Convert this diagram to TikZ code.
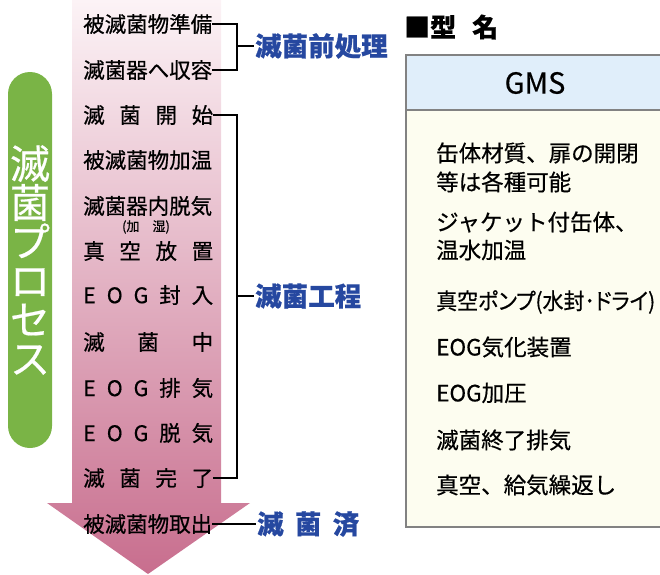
\documentclass[tikz,border=0pt]{standalone}
\usepackage{fontspec}
\usepackage{graphicx}
\setmainfont[FakeBold=0.5]{Noto Sans CJK JP}
\newfontfamily\paltfont[FakeBold=0.5,RawFeature=+palt]{Noto Sans CJK JP}
\usetikzlibrary{positioning}
\definecolor{arrowtop}{RGB}{252,243,246}
\definecolor{arrowbot}{RGB}{200,110,142}
\definecolor{procgreen}{RGB}{122,180,70}
\definecolor{labelblue}{RGB}{38,72,160}
\definecolor{headblue}{RGB}{224,238,250}
\definecolor{bodycream}{RGB}{253,253,240}
\definecolor{tabgray}{RGB}{130,130,130}

\begin{document}
\begin{tikzpicture}[
x=1pt,y=-1pt,
stepnode/.style={anchor=west,inner sep=0pt,font=\fontsize{21.5}{22}\selectfont},
grouplabel/.style={anchor=west,inner sep=1pt,text=labelblue,font=\fontsize{26.5}{27}\selectfont\bfseries},
bracket/.style={line width=1.8pt},
specnode/.style={anchor=west,inner sep=0pt,font=\fontsize{22.5}{23}\selectfont}
]
    \useasboundingbox (0,0) rectangle (660,574);

    % process arrow and green bar
    \shade[top color=arrowtop,bottom color=arrowbot]
        (72,0) -- (221,0) -- (221,503) -- (250,503) -- (148,574)
        -- (47,503) -- (72,503) -- cycle;
    \fill[procgreen,rounded corners=22pt] (8,72) rectangle (52,448);
    \node[text=white,font=\fontsize{40}{39}\selectfont,align=center] (proc) at (30,260)
        {滅\\菌\\プ\\ロ\\セ\\ス};

    % steps
    \node[stepnode] (s1) at (83,24) {被滅菌物準備};
    \node[stepnode] (s2) at (83,70) {滅菌器へ収容};
    \node[stepnode] (s3) at (83,115) {\makebox[130pt]{滅\hfill 菌\hfill 開\hfill 始}};
    \node[stepnode] (s4) at (83,160) {被滅菌物加温};
    \node[stepnode] (s5) at (83,206) {滅菌器内脱気};
    \node[inner sep=0pt,font=\fontsize{13}{13}\selectfont] (humid) at (146,227) {(加　湿)};
    \node[stepnode] (s6) at (83,251) {\makebox[130pt]{真\hfill 空\hfill 放\hfill 置}};
    \node[stepnode] (s7) at (83,295) {\makebox[130pt]{E\hfill O\hfill G\hfill 封\hfill 入}};
    \node[stepnode] (s8) at (83,342) {\makebox[130pt]{滅\hfill 菌\hfill 中}};
    \node[stepnode] (s9) at (83,388) {\makebox[130pt]{E\hfill O\hfill G\hfill 排\hfill 気}};
    \node[stepnode] (s10) at (83,433) {\makebox[130pt]{E\hfill O\hfill G\hfill 脱\hfill 気}};
    \node[stepnode] (s11) at (83,478) {\makebox[130pt]{滅\hfill 菌\hfill 完\hfill 了}};
    \node[stepnode] (s12) at (83,524) {被滅菌物取出};

    % brackets
    \coordinate (prejoin) at (237,46);
    \draw[bracket] (s1.east) -| (prejoin) |- (s2.east);
    \node[grouplabel,right=17pt of prejoin] (pre) {滅菌前処理};
    \draw[bracket] (prejoin) -- (pre.west);

    \coordinate (procjoin) at (237,296);
    \draw[bracket] (s3.east) -| (procjoin) |- (s11.east);
    \node[grouplabel,right=17pt of procjoin] (main) {滅菌工程};
    \draw[bracket] (procjoin) -- (main.west);

    \node[grouplabel] (done) at (256,524) {\makebox[102pt]{滅\hfill 菌\hfill 済}};
    \draw[bracket] (s12.east) -- (done.west);

    % model table
    \node[anchor=west,inner sep=0pt,font=\fontsize{26}{26}\selectfont\bfseries] (typename) at (404,27) {■型\hspace{16pt}名};
    \filldraw[draw=tabgray,fill=headblue,line width=1.2pt] (406,55) rectangle (666,110);
    \filldraw[draw=tabgray,fill=bodycream,line width=1.2pt] (406,110) rectangle (666,527);
    \node[font=\fontsize{29}{29}\selectfont] (gms) at (535,83) {GMS};

    \node[specnode] (spec1) at (436,153) {缶体材質、扉の開閉};
    \node[specnode] (spec2) at (436,182) {等は各種可能};
    \node[specnode] (spec3) at (436,222) {ジャケット付缶体、};
    \node[specnode] (spec4) at (436,250) {温水加温};
    \node[specnode] (spec5) at (436,302) {\resizebox{219pt}{\height}{\paltfont 真空ポンプ(水封･ドライ)}};
    \node[specnode] (spec6) at (436,347) {EOG気化装置};
    \node[specnode] (spec7) at (436,393) {EOG加圧};
    \node[specnode] (spec8) at (436,440) {滅菌終了排気};
    \node[specnode] (spec9) at (436,485) {真空、給気繰返し};
\end{tikzpicture}
\end{document}
